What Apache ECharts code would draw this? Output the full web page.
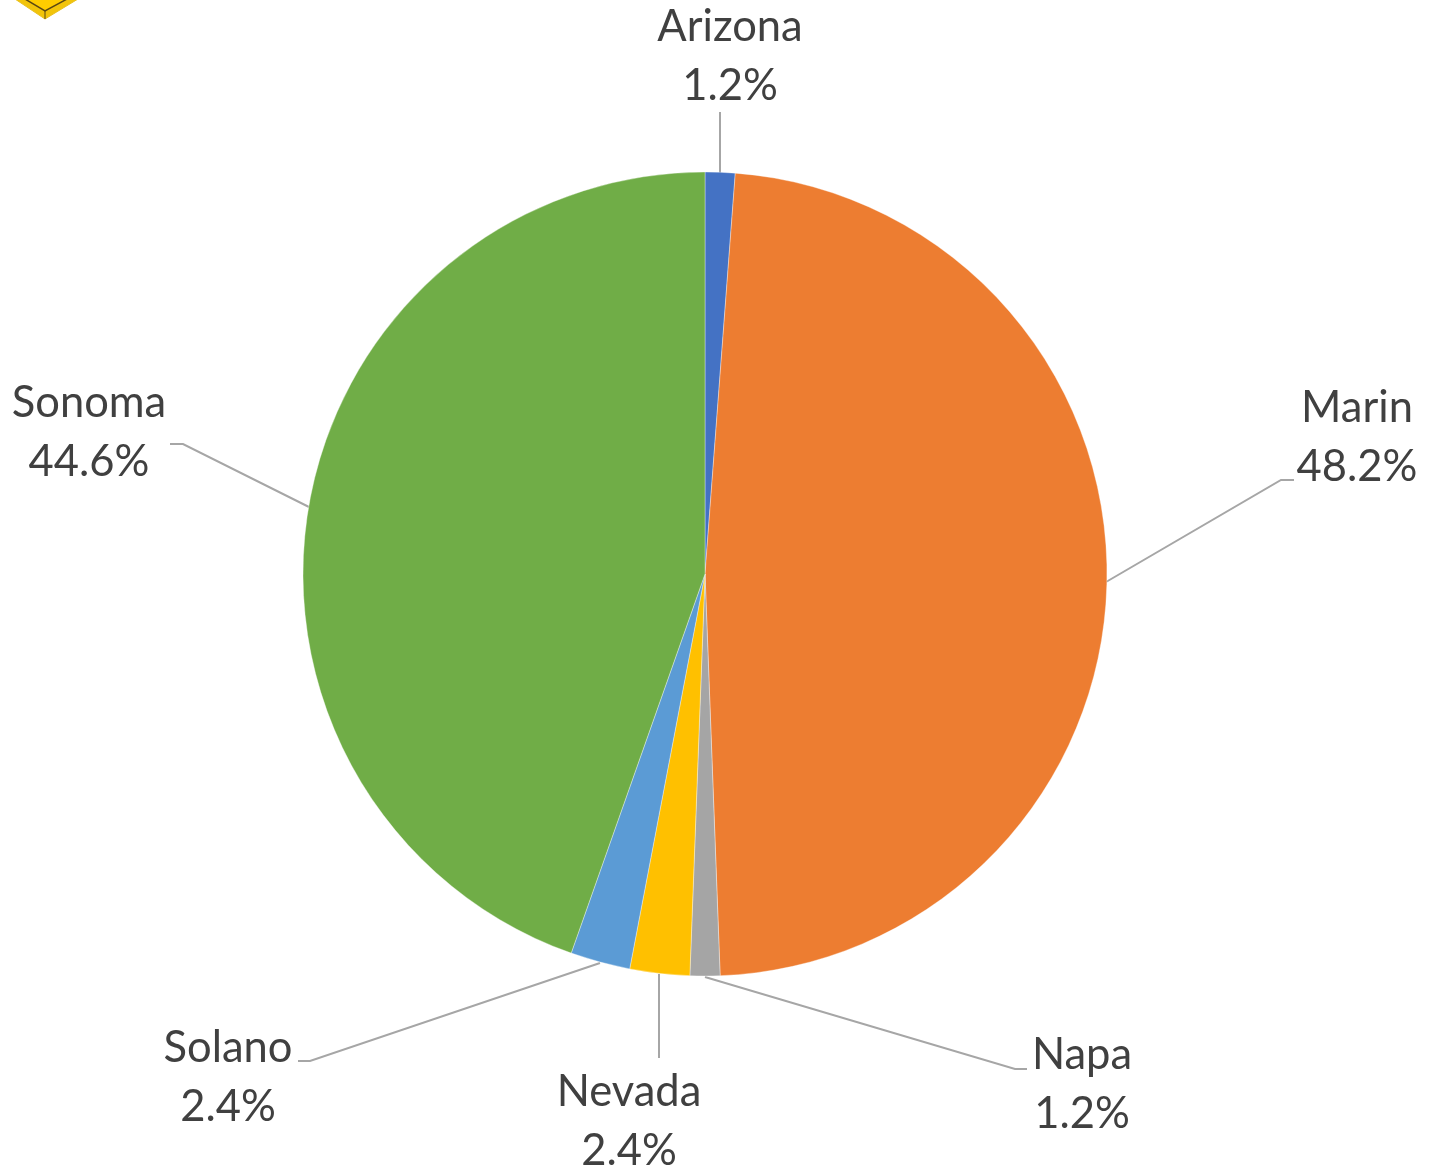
<!DOCTYPE html>
<html>
<head>
<meta charset="utf-8">
<title>Pie chart</title>
<style>
  html, body { margin: 0; padding: 0; background: #fff; }
  #main { width: 1436px; height: 1169px; }
</style>
<script src="https://cdn.jsdelivr.net/npm/echarts@6/dist/echarts.min.js"></script>
</head>
<body>
<div id="main"></div>
<script>
var categories = ['Arizona', 'Marin', 'Napa', 'Nevada', 'Solano', 'Sonoma'];
var shares = [1.2, 48.2, 1.2, 2.4, 2.4, 44.6];
var colors = ['#4472C4', '#ED7D31', '#A5A5A5', '#FFC000', '#5B9BD5', '#70AD47'];

// where each label and its leader line sit on the page
var labelSpots = {
  Arizona: { x: 730, y: 56, line: [[720, 173], [720, 112], [720, 112]] },
  Marin: { x: 1357, y: 437.5, line: [[1106, 582], [1281, 480], [1294, 480]] },
  Napa: { x: 1082, y: 1084, line: [[705, 977], [1015, 1069], [1027, 1069]] },
  Nevada: { x: 629, y: 1121, line: [[659, 974], [659, 1058], [659, 1058]] },
  Solano: { x: 228, y: 1077, line: [[600, 963], [310, 1061], [298, 1061]] },
  Sonoma: { x: 89, y: 432, line: [[309, 507], [183, 444], [170, 444]] }
};

var myChart = echarts.init(document.getElementById('main'));

var option = {
  animation: false,
  backgroundColor: '#fff',
  graphic: [
    // the bit of the yellow icon cut off by the top of the picture
    {
      type: 'polygon',
      shape: { points: [[15, -1], [45, 19], [78, -1]] },
      style: { fill: '#F2C40A', stroke: '#E8C020', lineWidth: 1 }
    },
    {
      type: 'polygon',
      shape: { points: [[25, -1], [45, 11], [67, -1]] },
      style: { fill: '#FFCC00', stroke: '#5a4712', lineWidth: 1.5 }
    },
    {
      type: 'line',
      shape: { x1: 45, y1: 11, x2: 45, y2: 19 },
      style: { stroke: '#5a4712', lineWidth: 1 }
    }
  ],
  series: [{
    type: 'pie',
    center: [705, 574],
    radius: 402,
    startAngle: 90,
    clockwise: true,
    silent: true,
    data: categories.map(function (name, i) {
      return { name: name, value: shares[i], itemStyle: { color: colors[i] } };
    }),
    itemStyle: {
      borderColor: 'rgba(255,255,255,0.35)',
      borderWidth: 1
    },
    label: {
      show: true,
      formatter: function (p) {
        return p.name + '\n' + p.value.toFixed(1) + '%';
      },
      fontFamily: 'Lato',
      fontSize: 43.5,
      lineHeight: 59,
      color: '#404040',
      align: 'center'
    },
    labelLine: {
      show: true,
      lineStyle: { color: '#A6A6A6', width: 2 }
    },
    labelLayout: function (params) {
      var spot = labelSpots[categories[params.dataIndex]];
      return {
        x: spot.x,
        y: spot.y,
        align: 'center',
        verticalAlign: 'middle',
        labelLinePoints: spot.line
      };
    }
  }]
};
myChart.setOption(option);
</script>
</body>
</html>
